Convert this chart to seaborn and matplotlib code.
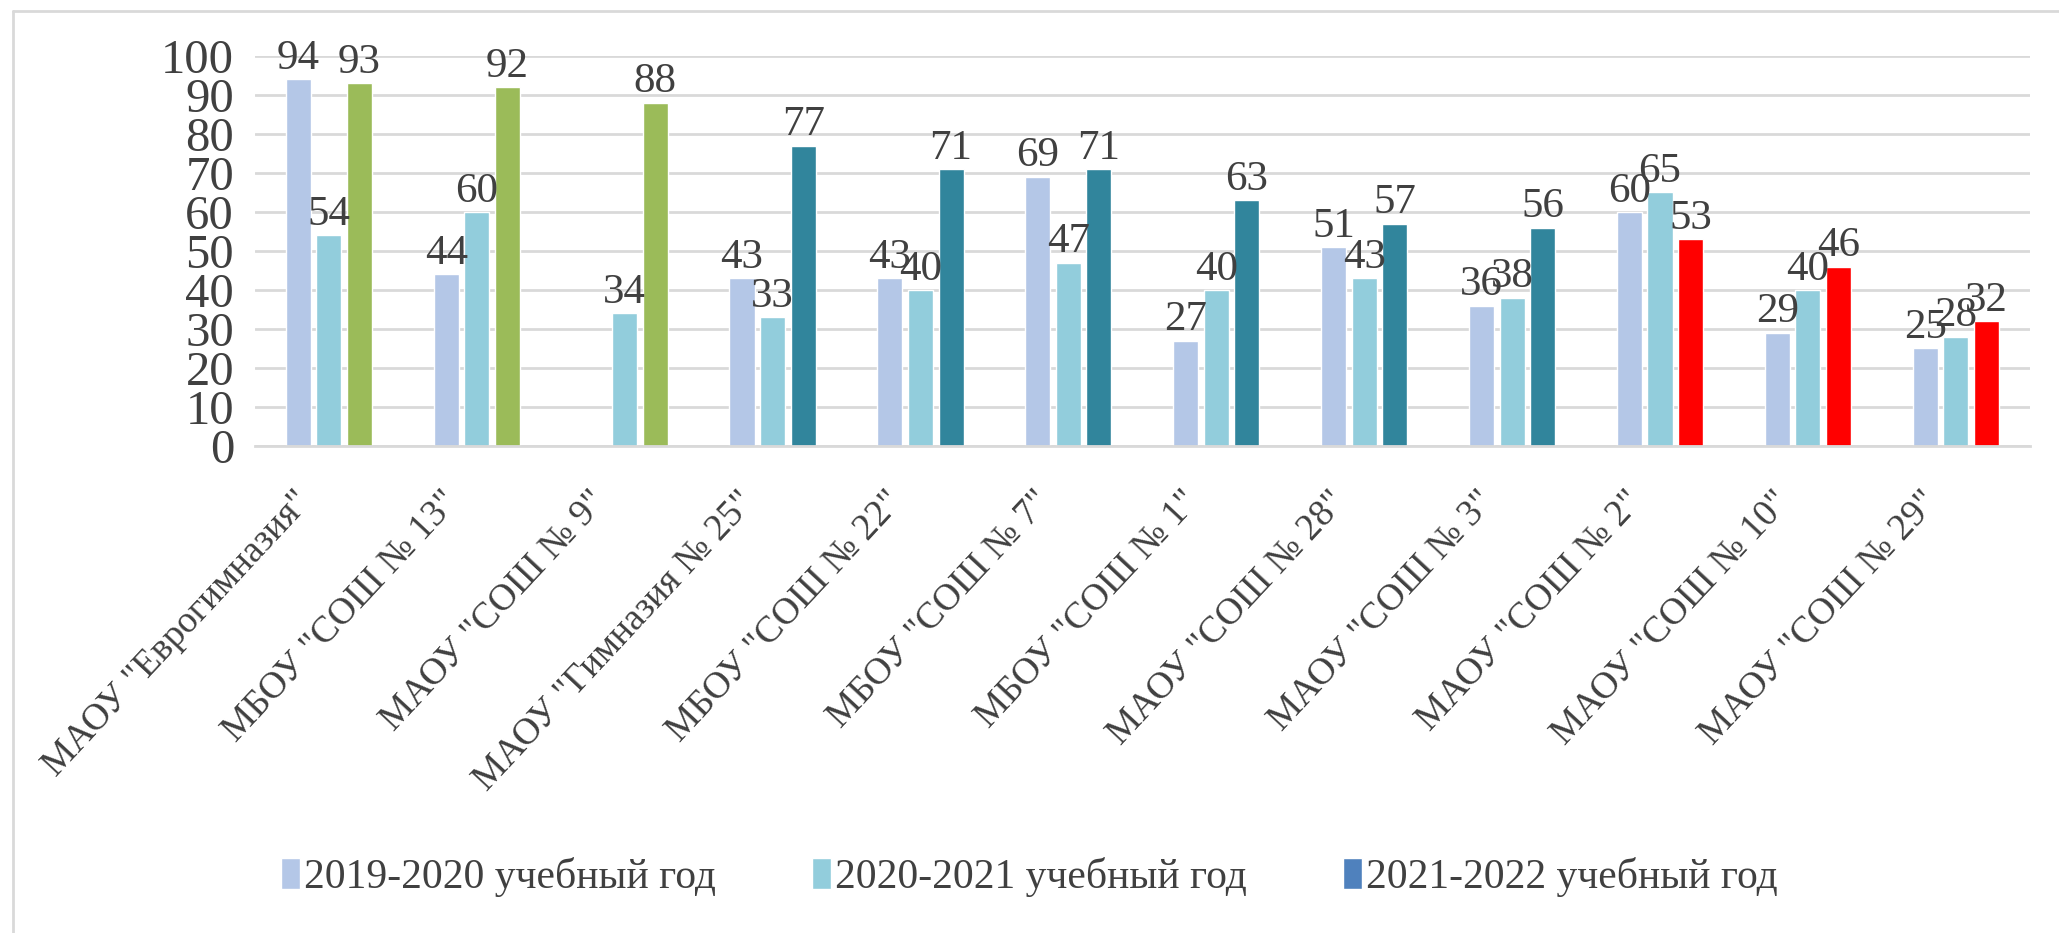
import numpy as np
import pandas as pd
import matplotlib.pyplot as plt
import seaborn as sns
from matplotlib.lines import Line2D
from matplotlib.transforms import ScaledTranslation

schools = ['МАОУ "Еврогимназия"', 'МБОУ "СОШ № 13"', 'МАОУ "СОШ № 9"',
           'МАОУ "Гимназия № 25"', 'МБОУ "СОШ № 22"', 'МБОУ "СОШ № 7"',
           'МБОУ "СОШ № 1"', 'МАОУ "СОШ № 28"', 'МАОУ "СОШ № 3"',
           'МАОУ "СОШ № 2"', 'МАОУ "СОШ № 10"', 'МАОУ "СОШ № 29"']
years = ['2019-2020 учебный год', '2020-2021 учебный год', '2021-2022 учебный год']
y2019 = [94, 44, np.nan, 43, 43, 69, 27, 51, 36, 60, 29, 25]
y2020 = [54, 60, 34, 33, 40, 47, 40, 43, 38, 65, 40, 28]
y2021 = [93, 92, 88, 77, 71, 71, 63, 57, 56, 53, 46, 32]
# colour group of the 2021-2022 bar for each school
groups = ['green'] * 3 + ['teal'] * 6 + ['red'] * 3

group_colors = {'green': '#9BBB59', 'teal': '#31859C', 'red': '#FF0000'}
palette = ['#B4C7E7', '#92CDDC', '#4F81BD']

rows = []
for vals, yr in zip([y2019, y2020, y2021], years):
    for s, v in zip(schools, vals):
        if not np.isnan(v):
            rows.append({'Школа': s, 'Год': yr, 'Значение': v})
df = pd.DataFrame(rows)

sns.set_style("white")
plt.rcParams['font.family'] = ['Liberation Serif', 'DejaVu Serif']
text_color = '#404040'

fig = plt.figure(figsize=(20.59, 9.33), dpi=100)
ax = fig.add_axes([0.1238, 0.522, 0.862, 0.418])

sns.barplot(data=df, x='Школа', y='Значение', hue='Год', order=schools,
            hue_order=years, palette=palette, width=0.62, gap=0.18,
            saturation=1, ax=ax, legend=True)

# recolour the 2021-2022 bars by group
for patch, g in zip(ax.containers[2], groups):
    patch.set_facecolor(group_colors[g])

for cont in ax.containers:
    ax.bar_label(cont, fmt='%.0f', fontsize=31, color=text_color, padding=1)

ax.set_ylim(0, 100)
ax.set_yticks(range(0, 101, 10))
ax.yaxis.grid(True, color='#D9D9D9', linewidth=2)
ax.set_axisbelow(True)
for side in ['left', 'right', 'top']:
    ax.spines[side].set_visible(False)
ax.spines['bottom'].set_color('#D9D9D9')
ax.spines['bottom'].set_linewidth(2)
ax.set_xlabel('')
ax.set_ylabel('')
ax.tick_params(axis='y', labelsize=35, labelcolor=text_color, length=0, pad=15)
ax.tick_params(axis='x', labelsize=27, labelcolor=text_color, length=0, pad=28)

# shift the slanted school names a little to the left, like the original
shift = ScaledTranslation(-0.36, 0, fig.dpi_scale_trans)
for lbl in ax.get_xticklabels():
    lbl.set_rotation(47)
    lbl.set_ha('right')
    lbl.set_rotation_mode('anchor')
    lbl.set_transform(lbl.get_transform() + shift)

ax.get_legend().remove()
handles, labels = ax.get_legend_handles_labels()
fig.legend(handles, labels, loc='center', bbox_to_anchor=(0.5, 0.06), ncol=3,
           frameon=False, fontsize=30, labelcolor=text_color, handlelength=0.45,
           handleheight=0.8, handletextpad=0.1, columnspacing=2.3)

# chart frame (top and left edges)
fig.add_artist(Line2D([0.0063, 1.0], [0.988, 0.988], color='#D9D9D9', linewidth=2))
fig.add_artist(Line2D([0.0063, 0.0063], [0.0, 0.988], color='#D9D9D9', linewidth=2))

plt.savefig('out.png', dpi=100)
plt.close()
